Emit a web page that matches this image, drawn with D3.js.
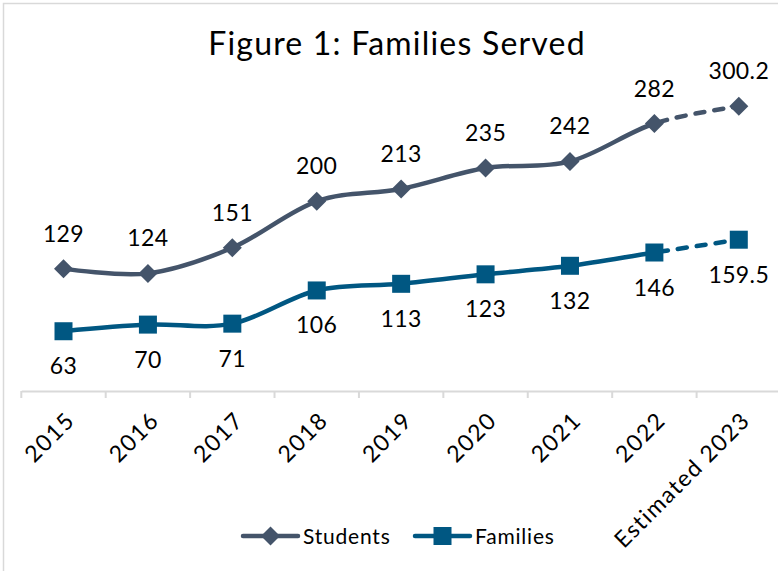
<!DOCTYPE html>
<html>
<head>
<meta charset="utf-8">
<script src="https://cdn.jsdelivr.net/npm/d3@7"></script>
<style>
  html, body { margin: 0; padding: 0; background: #fff; }
  svg { display: block; font-family: Lato, "Noto Sans", sans-serif; }
</style>
</head>
<body>
<svg id="chart" width="778" height="571"></svg>
<script>
// Program years and counts
const years = ["2015", "2016", "2017", "2018", "2019", "2020", "2021", "2022", "Estimated 2023"];
const students = [129, 124, 151, 200, 213, 235, 242, 282, 300.2];
const families = [63, 70, 71, 106, 113, 123, 132, 146, 159.5];
const seriesNames = ["Students", "Families"];
const seriesColors = ["#44546A", "#005782"];

const svg = d3.select("#chart");
const W = 778, H = 571;

// chart frame
svg.append("rect")
  .attr("x", 3.5).attr("y", 3.5)
  .attr("width", W + 10).attr("height", H + 10)
  .attr("fill", "#fff").attr("stroke", "#d9d9d9").attr("stroke-width", 1.5);

// title
svg.append("text")
  .attr("x", 397).attr("y", 55)
  .attr("text-anchor", "middle")
  .attr("font-size", 32)
  .attr("letter-spacing", 1.2)
  .attr("fill", "#000")
  .text("Figure 1: Families Served");

const axisY = 391;
const x = d3.scaleBand().domain(years).range([21.3, 781]).paddingInner(0).paddingOuter(0);
const y = d3.scaleLinear().domain([0, 350]).range([axisY, 59]);
const cx = d => x(d) + x.bandwidth() / 2;

// category axis
const axis = d3.axisBottom(x).tickSize(0).tickFormat("");
const gAxis = svg.append("g").attr("transform", `translate(0,${axisY})`).call(axis);
gAxis.select(".domain").attr("stroke", "#d9d9d9").attr("stroke-width", 2);
// tick marks on band boundaries
gAxis.selectAll("line.bound")
  .data(years)
  .join("line")
  .attr("class", "bound")
  .attr("x1", d => x(d)).attr("x2", d => x(d))
  .attr("y1", 0).attr("y2", 7)
  .attr("stroke", "#d9d9d9").attr("stroke-width", 2);

// rotated category labels
svg.append("g").selectAll("text")
  .data(years)
  .join("text")
  .attr("transform", d => `translate(${cx(d) + 1},${axisY + 19}) rotate(-45)`)
  .attr("text-anchor", "end")
  .attr("dy", "0.72em")
  .attr("font-size", 23)
  .attr("letter-spacing", 1.5)
  .attr("fill", "#000")
  .text(d => d);

// smoothed line generator
const line = d3.line()
  .x(d => cx(d.year))
  .y(d => y(d.value))
  .curve(d3.curveCatmullRom.alpha(0));

// split at 2022: actual values solid, estimate dashed
const splitX = cx("2022");
const defs = svg.append("defs");
defs.append("clipPath").attr("id", "clipSolid")
  .append("rect").attr("x", 0).attr("y", 0).attr("width", splitX).attr("height", H);
defs.append("clipPath").attr("id", "clipDash")
  .append("rect").attr("x", splitX).attr("y", 0).attr("width", W - splitX).attr("height", H);

const series = [students, families].map((vals, i) => ({
  name: seriesNames[i],
  color: seriesColors[i],
  points: vals.map((v, j) => ({ year: years[j], value: v }))
}));

function drawMarker(g, kind, px, py, color) {
  if (kind === 0) {
    const r = 9.5;
    g.append("path")
      .attr("d", `M${px},${py - r}L${px + r},${py}L${px},${py + r}L${px - r},${py}Z`)
      .attr("fill", color);
  } else {
    const s = 18;
    g.append("rect")
      .attr("x", px - s / 2).attr("y", py - s / 2)
      .attr("width", s).attr("height", s)
      .attr("fill", color);
  }
}

series.forEach((s, i) => {
  const g = svg.append("g");
  g.append("path")
    .attr("d", line(s.points))
    .attr("fill", "none").attr("stroke", s.color)
    .attr("stroke-width", 4.5).attr("stroke-linecap", "round")
    .attr("clip-path", "url(#clipSolid)");
  g.append("path")
    .attr("d", line(s.points))
    .attr("fill", "none").attr("stroke", s.color)
    .attr("stroke-width", 4.5).attr("stroke-linecap", "round")
    .attr("stroke-dasharray", "9,10")
    .attr("stroke-dashoffset", -(splitX - cx(years[0])) - 14)
    .attr("clip-path", "url(#clipDash)");
  s.points.forEach(p => drawMarker(g, i, cx(p.year), y(p.value), s.color));
  // value labels: students above, families below
  g.selectAll("text.val")
    .data(s.points)
    .join("text")
    .attr("class", "val")
    .attr("x", p => cx(p.year))
    .attr("y", p => y(p.value) + (i === 0 ? -27 : 43))
    .attr("text-anchor", "middle")
    .attr("font-size", 23)
    .attr("letter-spacing", 0.4)
    .attr("fill", "#000")
    .text(p => String(p.value));
});

// legend
const legend = svg.append("g");
const legendItems = [
  { x0: 243, x1: 298, tx: 303 },
  { x0: 415, x1: 470, tx: 475 }
];
series.forEach((s, i) => {
  const it = legendItems[i];
  const ly = 536;
  legend.append("line")
    .attr("x1", it.x0).attr("x2", it.x1).attr("y1", ly).attr("y2", ly)
    .attr("stroke", s.color).attr("stroke-width", 4.5).attr("stroke-linecap", "round");
  drawMarker(legend, i, (it.x0 + it.x1) / 2, ly, s.color);
  legend.append("text")
    .attr("x", it.tx).attr("y", ly + 7.5)
    .attr("font-size", 21)
    .attr("letter-spacing", 0.8)
    .attr("fill", "#000")
    .text(s.name);
});
</script>
</body>
</html>
